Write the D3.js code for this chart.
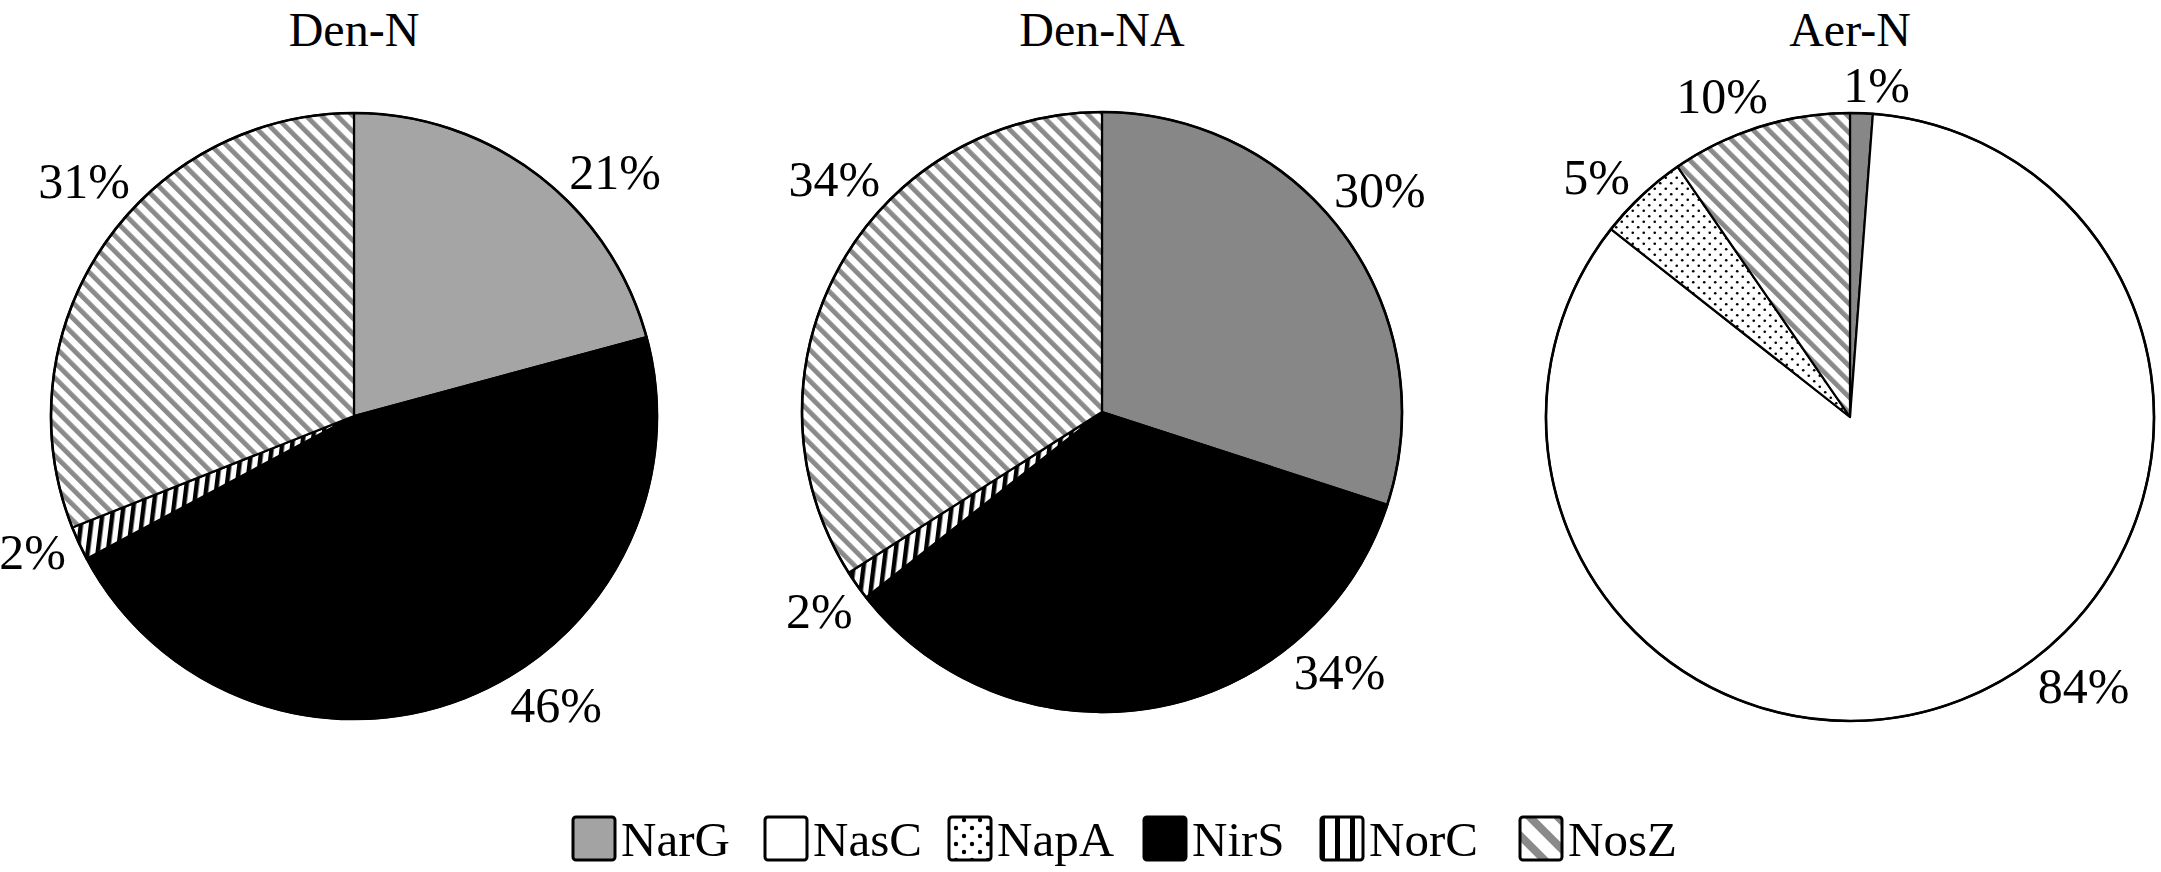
<!DOCTYPE html>
<html>
<head>
<meta charset="utf-8">
<script src="https://cdn.jsdelivr.net/npm/d3@7/dist/d3.min.js"></script>
<style>
  html, body { margin: 0; padding: 0; background: #fff; }
  svg { display: block; }
  text { font-family: "Liberation Serif", "Times New Roman", serif; fill: #000; }
</style>
</head>
<body>
<svg id="chart" width="2161" height="872"></svg>
<script>
// ---- data ----
const categories = ["NarG", "NasC", "NapA", "NirS", "NorC", "NosZ"];
const panelTitles = ["Den-N", "Den-NA", "Aer-N"];
const denN  = [20.8, 0, 0, 46.4, 1.8, 31.0];
const denNA = [30.0, 0, 0, 34.4, 1.6, 34.0];
const aerN  = [1.2, 84.4, 4.8, 0, 0, 9.6];
const seriesValues = [denN, denNA, aerN];

// ---- layout (not data) ----
const W = 2161, H = 872;
const pieCenters = [[354, 416], [1102, 412], [1850, 417]];
const pieRadius = [303, 300, 304];
// angle (deg, clockwise from top) at which each slice label sits, per panel
const labelAngles = [
  [47, null, null, 145, 247, 311],
  [51.4, null, null, 137.6, 234.8, 311],
  [4.6, 139, 313.4, null, null, 338.3]
];
const narGFill = ["#a5a5a5", "#878787", "#878787"];

const svg = d3.select("#chart");
const defs = svg.append("defs");

// patterns
function stripePattern(id, period, lineW, color, angle) {
  const p = defs.append("pattern").attr("id", id)
    .attr("patternUnits", "userSpaceOnUse")
    .attr("width", period).attr("height", period)
    .attr("patternTransform", `rotate(${angle})`);
  p.append("rect").attr("width", period).attr("height", period).attr("fill", "#fff");
  p.append("rect").attr("x", 0).attr("y", 0).attr("width", lineW).attr("height", period).attr("fill", color);
}
stripePattern("nosz", 11, 4.8, "#8a8a8a", -45);
stripePattern("noszLeg", 20, 8, "#8a8a8a", -45);
stripePattern("norc", 10, 4.5, "#000", 7);
stripePattern("norcLeg", 15, 5, "#000", 0);

function dotPattern(id, period, r) {
  const p = defs.append("pattern").attr("id", id)
    .attr("patternUnits", "userSpaceOnUse")
    .attr("width", period).attr("height", period);
  p.append("rect").attr("width", period).attr("height", period).attr("fill", "#fff");
  p.append("circle").attr("cx", period * 0.25).attr("cy", period * 0.25).attr("r", r).attr("fill", "#000");
  p.append("circle").attr("cx", period * 0.75).attr("cy", period * 0.75).attr("r", r).attr("fill", "#000");
}
dotPattern("napa", 11, 1.3);
dotPattern("napaLeg", 16, 2.2);

function fillFor(cat, panelIdx, legend) {
  switch (cat) {
    case "NarG": return legend ? "#a3a3a3" : narGFill[panelIdx];
    case "NasC": return "#fff";
    case "NapA": return legend ? "url(#napaLeg)" : "url(#napa)";
    case "NirS": return "#000";
    case "NorC": return legend ? "url(#norcLeg)" : "url(#norc)";
    case "NosZ": return legend ? "url(#noszLeg)" : "url(#nosz)";
  }
}

const pie = d3.pie().sort(null).value(d => d.value);

seriesValues.forEach((vals, pi) => {
  const [cx, cy] = pieCenters[pi];
  const R = pieRadius[pi];
  const g = svg.append("g").attr("transform", `translate(${cx},${cy})`);
  const rows = categories.map((c, i) => ({ cat: c, value: vals[i], idx: i }));
  const arcs = pie(rows).filter(a => a.data.value > 0);
  const arc = d3.arc().innerRadius(0).outerRadius(R);

  g.selectAll("path.slice").data(arcs).join("path")
    .attr("class", "slice")
    .attr("d", arc)
    .attr("fill", d => fillFor(d.data.cat, pi, false))
    .attr("stroke", "#000")
    .attr("stroke-width", 2.2)
    .attr("stroke-linejoin", "round");

  g.append("circle").attr("r", R).attr("fill", "none").attr("stroke", "#000").attr("stroke-width", 2.6);

  // labels
  const fs = 50, capH = 34;
  arcs.forEach(a => {
    const deg = labelAngles[pi][a.data.idx];
    const ang = (deg != null ? deg : (a.startAngle + a.endAngle) / 2 * 180 / Math.PI) * Math.PI / 180;
    const t = g.append("text")
      .attr("font-size", fs)
      .attr("text-anchor", "middle")
      .text(Math.round(a.data.value) + "%");
    const w = t.node().getComputedTextLength();
    const s = Math.sin(ang), c = Math.cos(ang);
    const ext = (w / 2) * Math.abs(s) + (capH / 2) * Math.abs(c);
    const dist = R + 9 + ext;
    const lx = dist * s, ly = -dist * c;
    t.attr("x", lx).attr("y", ly + capH / 2);
  });

  // title
  svg.append("text")
    .attr("x", cx).attr("y", 46)
    .attr("font-size", 48)
    .attr("text-anchor", "middle")
    .text(panelTitles[pi]);
});

// legend
const legendX = [571, 763, 947, 1142, 1319, 1518];
const leg = svg.append("g");
categories.forEach((c, i) => {
  const x = legendX[i];
  leg.append("rect")
    .attr("x", x + 2).attr("y", 817).attr("width", 42).attr("height", 43)
    .attr("rx", 3).attr("ry", 3)
    .attr("fill", fillFor(c, 0, true))
    .attr("stroke", "#000").attr("stroke-width", 3);
  leg.append("text")
    .attr("x", x + 50).attr("y", 856)
    .attr("font-size", 49)
    .text(c);
});
</script>
</body>
</html>
